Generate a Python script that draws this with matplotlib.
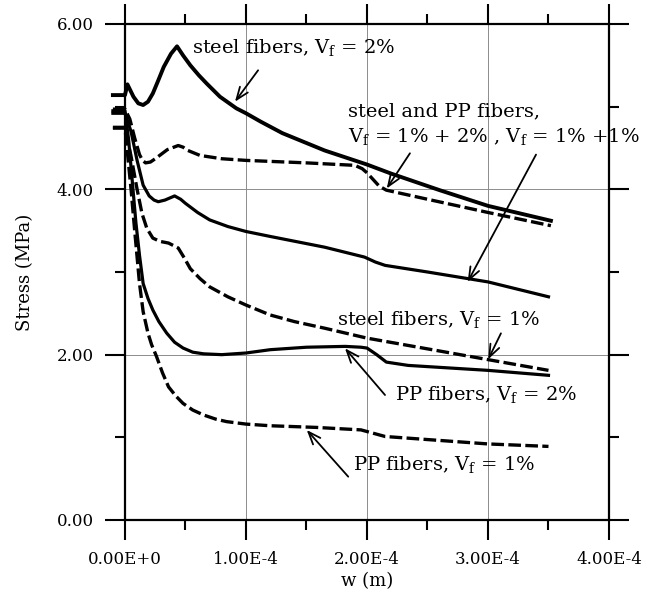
import numpy as np
import matplotlib.pyplot as plt
from matplotlib.ticker import FixedLocator

plt.rcParams['font.family'] = ['DejaVu Serif']
plt.rcParams['mathtext.fontset'] = 'dejavuserif'

# crack opening w in units of 1e-4 m, stress in MPa
w_steel2 = [-0.10, 0.00, 0.02, 0.07, 0.11, 0.15, 0.19, 0.23, 0.27, 0.32, 0.38, 0.43, 0.48, 0.54,
            0.61, 0.675, 0.785, 0.92, 1.00, 1.12, 1.30, 1.50, 1.65, 2.00, 2.20, 2.60, 3.00, 3.52]
s_steel2 = [5.14, 5.14, 5.27, 5.12, 5.04, 5.02, 5.06, 5.16, 5.30, 5.48, 5.64, 5.73, 5.62, 5.50,
            5.38, 5.28, 5.12, 4.98, 4.92, 4.82, 4.68, 4.56, 4.47, 4.30, 4.19, 3.99, 3.80, 3.62]

w_mix12 = [-0.10, 0.00, 0.04, 0.08, 0.12, 0.145, 0.17, 0.21, 0.25, 0.35, 0.44, 0.48, 0.52, 0.62,
           0.80, 1.00, 1.50, 1.90, 1.96, 2.00, 2.10, 2.16, 2.50, 3.00, 3.52]
s_mix12 = [4.97, 4.97, 4.85, 4.62, 4.42, 4.35, 4.32, 4.33, 4.37, 4.48, 4.53, 4.51, 4.47, 4.41,
           4.37, 4.35, 4.32, 4.29, 4.25, 4.20, 4.04, 3.99, 3.88, 3.72, 3.56]

w_mix11 = [-0.10, 0.00, 0.05, 0.10, 0.15, 0.20, 0.24, 0.275, 0.33, 0.41, 0.46, 0.50, 0.60, 0.70,
           0.85, 1.00, 1.20, 1.65, 1.98, 2.07, 2.15, 2.50, 3.00, 3.50]
s_mix11 = [4.92, 4.92, 4.70, 4.35, 4.05, 3.92, 3.87, 3.85, 3.87, 3.92, 3.88, 3.83, 3.72, 3.63,
           3.55, 3.49, 3.43, 3.30, 3.18, 3.12, 3.08, 3.00, 2.88, 2.70]

w_steel1 = [-0.10, 0.00, 0.05, 0.10, 0.14, 0.18, 0.23, 0.29, 0.36, 0.44, 0.49, 0.54, 0.62, 0.70,
            0.85, 1.00, 1.20, 1.40, 1.65, 2.00, 2.50, 3.00, 3.50]
s_steel1 = [4.75, 4.75, 4.40, 4.00, 3.71, 3.53, 3.41, 3.37, 3.35, 3.29, 3.17, 3.04, 2.92, 2.82,
            2.70, 2.60, 2.48, 2.40, 2.32, 2.20, 2.07, 1.94, 1.81]

w_pp2 = [-0.10, 0.00, 0.03, 0.06, 0.09, 0.12, 0.15, 0.19, 0.23, 0.28, 0.345, 0.41, 0.48, 0.56,
         0.65, 0.80, 1.00, 1.20, 1.50, 1.82, 1.95, 2.00, 2.08, 2.16, 2.34, 3.00, 3.50]
s_pp2 = [4.95, 4.95, 4.60, 4.10, 3.60, 3.20, 2.86, 2.68, 2.54, 2.40, 2.26, 2.15, 2.08, 2.03,
         2.01, 2.00, 2.02, 2.06, 2.09, 2.10, 2.09, 2.08, 2.00, 1.91, 1.87, 1.81, 1.75]

w_pp1 = [-0.10, 0.00, 0.05, 0.08, 0.12, 0.15, 0.19, 0.22, 0.26, 0.31, 0.36, 0.42, 0.48, 0.56,
         0.65, 0.75, 0.84, 1.00, 1.20, 1.58, 1.95, 2.05, 2.15, 3.00, 3.50]
s_pp1 = [4.74, 4.74, 4.00, 3.50, 2.86, 2.52, 2.26, 2.12, 1.98, 1.78, 1.61, 1.50, 1.41, 1.33,
         1.27, 1.22, 1.19, 1.16, 1.14, 1.12, 1.09, 1.05, 1.01, 0.92, 0.89]

x_major = [0, 1, 2, 3, 4]
x_labels = ['0.00E+0', '1.00E-4', '2.00E-4', '3.00E-4', '4.00E-4']
y_major = [0, 2, 4, 6]
y_labels = ['0.00', '2.00', '4.00', '6.00']

sc = 1e-4
dash = (0, (3.8, 1.3))

fig = plt.figure(figsize=(6.5, 5.94), dpi=100)
ax = fig.add_axes([0.1923, 0.1246, 0.7446, 0.835])

ax.plot(np.array(w_steel2)*sc, s_steel2, 'k-', lw=2.8, clip_on=False)
ax.plot(np.array(w_mix12)*sc, s_mix12, 'k', ls=dash, lw=2.4, clip_on=False)
ax.plot(np.array(w_mix11)*sc, s_mix11, 'k-', lw=2.3, clip_on=False)
ax.plot(np.array(w_steel1)*sc, s_steel1, 'k', ls=dash, lw=2.4, clip_on=False)
ax.plot(np.array(w_pp2)*sc, s_pp2, 'k-', lw=2.3, clip_on=False)
ax.plot(np.array(w_pp1)*sc, s_pp1, 'k', ls=dash, lw=2.4, clip_on=False)

ax.set_xlim(0, 4e-4)
ax.set_ylim(0, 6)
ax.set_xticks(np.array(x_major)*sc)
ax.set_xticklabels(x_labels)
ax.set_yticks(y_major)
ax.set_yticklabels(y_labels)
ax.xaxis.set_minor_locator(FixedLocator(np.array([0.5, 1.5, 2.5, 3.5])*sc))
ax.yaxis.set_minor_locator(FixedLocator([1, 3, 5]))
ax.tick_params(which='both', direction='out', top=True, right=True, width=1.5,
               labelsize=12, pad=8)
ax.tick_params(which='major', length=14.4)
ax.tick_params(which='minor', length=7.2)
for sp in ax.spines.values():
    sp.set_linewidth(1.6)
ax.grid(True, which='major', color='0.55', lw=0.7)

ax.set_xlabel('w (m)', fontsize=13, labelpad=3)
ax.set_ylabel('Stress (MPa)', fontsize=13, labelpad=16)

fs = 14
ax.text(0.551*sc, 5.65, r'steel fibers, V$_\mathrm{f}$ = 2%', fontsize=fs, va='baseline')
ax.text(1.845*sc, 4.88, 'steel and PP fibers,', fontsize=fs, va='baseline')
ax.text(1.845*sc, 4.576, r'V$_\mathrm{f}$ = 1% + 2% , V$_\mathrm{f}$ = 1% +1%', fontsize=fs,
        va='baseline')
ax.text(1.75*sc, 2.359, r'steel fibers, V$_\mathrm{f}$ = 1%', fontsize=fs, va='baseline')
ax.text(2.231*sc, 1.452, r'PP fibers, V$_\mathrm{f}$ = 2%', fontsize=fs, va='baseline')
ax.text(1.887*sc, 0.605, r'PP fibers, V$_\mathrm{f}$ = 1%', fontsize=fs, va='baseline')

arrows = [((0.909, 5.06), (1.10, 5.44)),
          ((2.163, 4.01), (2.355, 4.436)),
          ((2.832, 2.88), (3.397, 4.42)),
          ((3.002, 1.944), (3.107, 2.258)),
          ((1.818, 2.077), (2.149, 1.512)),
          ((1.502, 1.089), (1.845, 0.524))]
for head, tail in arrows:
    ax.annotate('', xy=(head[0]*sc, head[1]), xytext=(tail[0]*sc, tail[1]),
                arrowprops=dict(arrowstyle='->,head_length=0.9,head_width=0.35', lw=1.3,
                                color='k', shrinkA=0, shrinkB=0))

fig.savefig('out.png', dpi=100)
